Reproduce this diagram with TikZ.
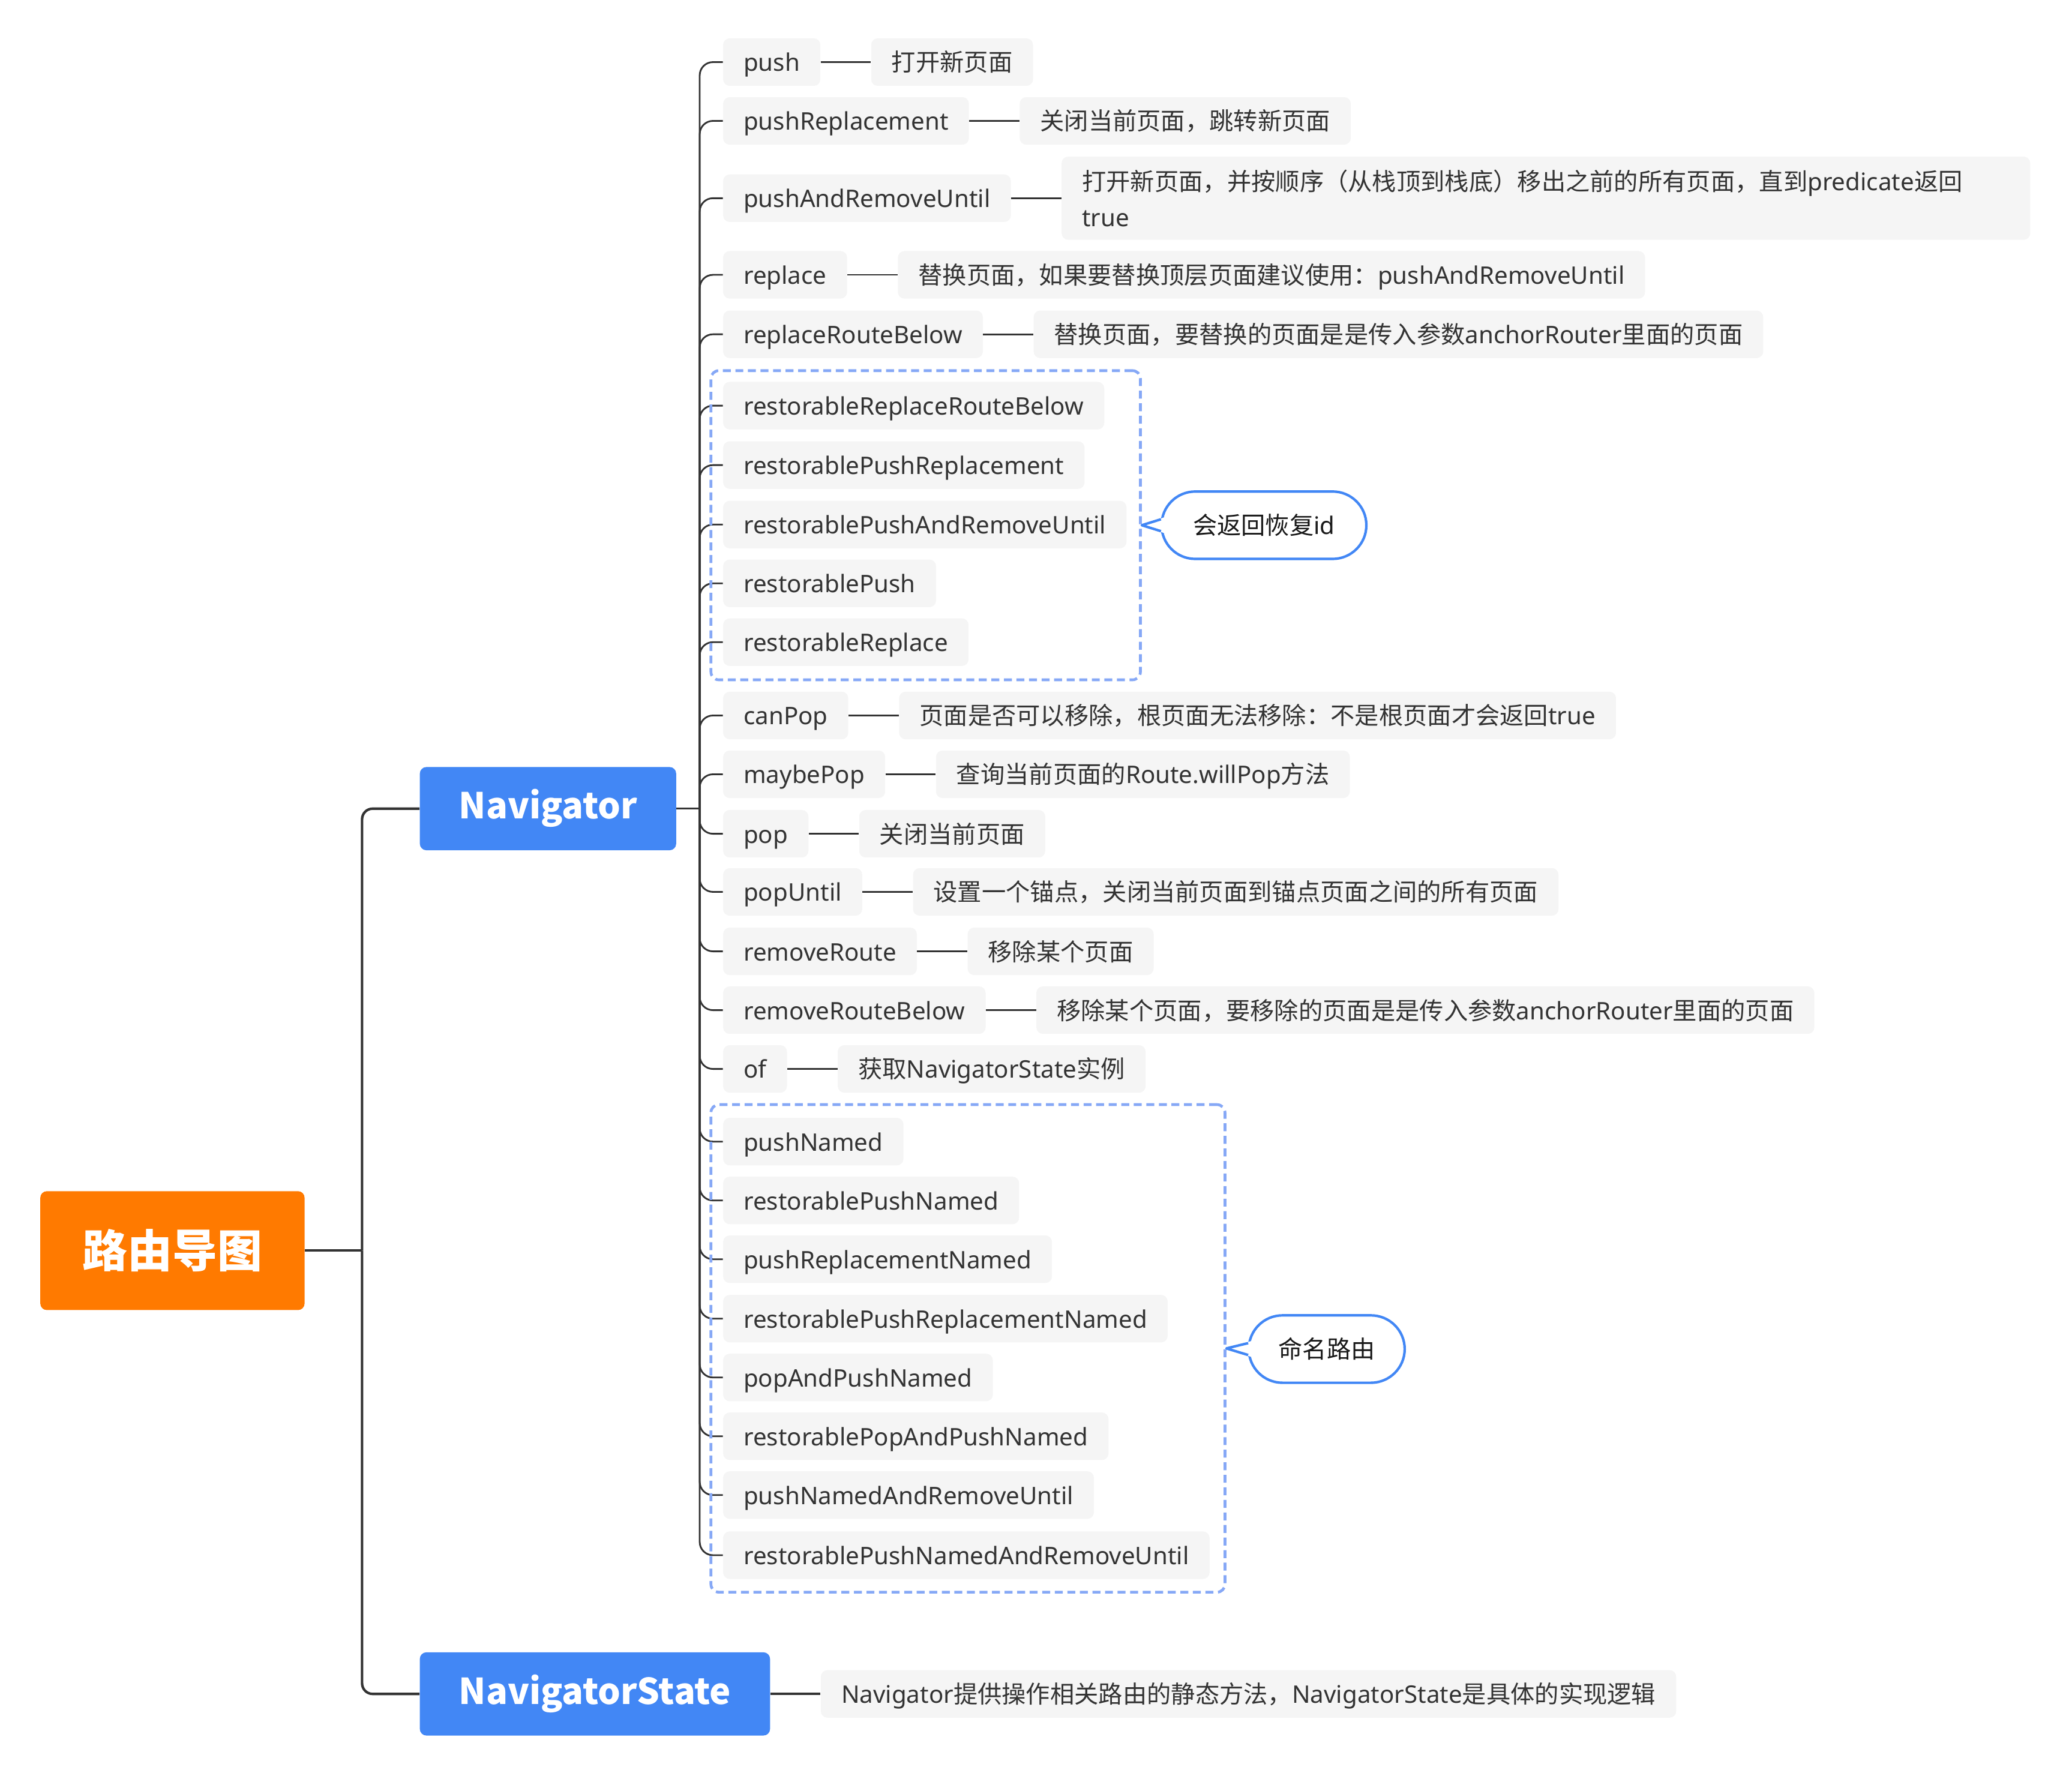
\documentclass[tikz,border=0pt]{standalone}
\usepackage{fontspec}
\setmainfont{Noto Sans}
\newfontfamily\cjk{Noto Sans CJK SC}
\usetikzlibrary{positioning,shapes.misc}
\newcommand\zh[1]{{\cjk #1}}
\definecolor{rootorange}{HTML}{FF7A00}
\definecolor{mainblue}{HTML}{4287F5}
\definecolor{groupblue}{HTML}{86A8F6}
\definecolor{leafgray}{HTML}{F5F5F5}
\definecolor{linedark}{HTML}{333333}
\definecolor{textdark}{HTML}{333333}
\begin{document}
\begin{tikzpicture}[x=1pt,y=-1pt,
  leaf/.style={fill=leafgray, rounded corners=5pt, anchor=west, inner xsep=15.5pt, inner ysep=0pt,
    minimum height=36pt, text height=15.5pt, text depth=1.5pt, text=textdark,
    font=\fontsize{18.3}{27}\selectfont},
  mainbox/.style={fill=mainblue, rounded corners=5pt, anchor=west, inner xsep=29.5pt, inner ysep=0pt,
    minimum height=63pt, text height=18pt, text depth=2.5pt, text=white, font=\fontsize{27}{30}\selectfont\cjk\bfseries},
  rootbox/.style={fill=rootorange, rounded corners=5pt, inner xsep=32pt, inner ysep=0pt,
    minimum height=90pt, text=white, font=\fontsize{34}{36}\selectfont\cjk\bfseries},
  link/.style={draw=linedark, line width=1.3pt},
  rootlink/.style={draw=linedark, line width=1.9pt, rounded corners=8pt},
  group/.style={draw=groupblue, line width=2.1pt, dash pattern=on 6pt off 3.5pt, rounded corners=6pt, inner sep=0pt},
  bubble/.style={rounded rectangle, draw=mainblue, line width=1.9pt, fill=white, inner sep=0pt,
    minimum height=51pt, text=black!90, font=\fontsize{18.3}{22}\selectfont},
  pointer/.style={draw=mainblue, line width=1.9pt, line join=round}
]
\useasboundingbox (0,0) rectangle (1568,1344);

% root and main branches
\node[rootbox] (root) at (130.5,946.5) {路由导图};
\node[mainbox] (nav) at (317.5,612) {Navigator};
\node[mainbox] (ns) at (317.5,1282) {NavigatorState};
\coordinate (rootj) at (274,946.5);
\draw[rootlink] (root.east) -- (rootj);
\draw[rootlink] (rootj) |- (nav.west);
\draw[rootlink] (rootj) |- (ns.west);

% NavigatorState description
\node[leaf, right=38pt of ns] (nsd) {Navigator\zh{提供操作相关路由的静态方法，}NavigatorState\zh{是具体的实现逻辑}};
\draw[link, line width=1.6pt] (ns) -- (nsd);

% Navigator children
\node[leaf] (c1) at (547,47) {push};
\node[leaf] (c2) at (547,91.5) {pushReplacement};
\node[leaf] (c3) at (547,150) {pushAndRemoveUntil};
\node[leaf] (c4) at (547,208) {replace};
\node[leaf] (c5) at (547,253) {replaceRouteBelow};
\node[leaf] (c6) at (547,307) {restorableReplaceRouteBelow};
\node[leaf] (c7) at (547,352) {restorablePushReplacement};
\node[leaf] (c8) at (547,397) {restorablePushAndRemoveUntil};
\node[leaf] (c9) at (547,441.5) {restorablePush};
\node[leaf] (c10) at (547,486) {restorableReplace};
\node[leaf] (c11) at (547,541.5) {canPop};
\node[leaf] (c12) at (547,586) {maybePop};
\node[leaf] (c13) at (547,631) {pop};
\node[leaf] (c14) at (547,675) {popUntil};
\node[leaf] (c15) at (547,720) {removeRoute};
\node[leaf] (c16) at (547,764.5) {removeRouteBelow};
\node[leaf] (c17) at (547,809) {of};
\node[leaf] (c18) at (547,864) {pushNamed};
\node[leaf] (c19) at (547,908.5) {restorablePushNamed};
\node[leaf] (c20) at (547,953) {pushReplacementNamed};
\node[leaf] (c21) at (547,998) {restorablePushReplacementNamed};
\node[leaf] (c22) at (547,1042.5) {popAndPushNamed};
\node[leaf] (c23) at (547,1087) {restorablePopAndPushNamed};
\node[leaf] (c24) at (547,1131.5) {pushNamedAndRemoveUntil};
\node[leaf] (c25) at (547,1177) {restorablePushNamedAndRemoveUntil};

\coordinate (navj) at (529.5,612);
\draw[link] (nav.east) -- (navj);
\foreach \c in {c1,c2,c3,c4,c5,c6,c7,c8,c9,c10,c11,c12,c13,c14,c15,c16,c17,c18,c19,c20,c21,c22,c23,c24,c25}
  \draw[link, rounded corners=10pt] (navj) |- (\c.west);

% descriptions
\node[leaf, right=38pt of c1] (d1) {\zh{打开新页面}};
\node[leaf, right=38pt of c2] (d2) {\zh{关闭当前页面，跳转新页面}};
\node[leaf, right=38pt of c3, minimum height=63pt, text width=702pt, align=left, text height=15.5pt, text depth=27pt]
  (d3) {\zh{打开新页面，并按顺序（从栈顶到栈底）移出之前的所有页面，直到}predicate\zh{返回}\\true};
\node[leaf, right=38pt of c4] (d4) {\zh{替换页面，如果要替换顶层页面建议使用：}pushAndRemoveUntil};
\node[leaf, right=38pt of c5] (d5) {\zh{替换页面，要替换的页面是是传入参数}anchorRouter\zh{里面的页面}};
\node[leaf, right=38pt of c11] (d11) {\zh{页面是否可以移除，根页面无法移除：不是根页面才会返回}true};
\node[leaf, right=38pt of c12] (d12) {\zh{查询当前页面的}Route.willPop\zh{方法}};
\node[leaf, right=38pt of c13] (d13) {\zh{关闭当前页面}};
\node[leaf, right=38pt of c14] (d14) {\zh{设置一个锚点，关闭当前页面到锚点页面之间的所有页面}};
\node[leaf, right=38pt of c15] (d15) {\zh{移除某个页面}};
\node[leaf, right=38pt of c16] (d16) {\zh{移除某个页面，要移除的页面是是传入参数}anchorRouter\zh{里面的页面}};
\node[leaf, right=38pt of c17] (d17) {\zh{获取}NavigatorState\zh{实例}};
\foreach \c/\d in {c1/d1,c2/d2,c3/d3,c4/d4,c5/d5,c11/d11,c12/d12,c13/d13,c14/d14,c15/d15,c16/d16,c17/d17}
  \draw[link] (\c.east) -- (\d.west);

% groups
\node[group, minimum width=325pt, minimum height=234pt] (g1) at (700.5,397.5) {};
\node[group, minimum width=389pt, minimum height=369pt] (g2) at (732.5,1020.5) {};

% callouts
\node[bubble, minimum width=155pt] (b1) at (956.5,397.5) {\zh{会返回恢复}id};
\fill[white] (g1.east) -- ([shift={(6,-7)}]b1.west) -- ([shift={(6,7)}]b1.west) -- cycle;
\draw[pointer] ([shift={(0.5,-4.5)}]b1.west) -- (g1.east) -- ([shift={(0.5,4.5)}]b1.west);

\node[bubble, minimum width=118pt] (b2) at (1004,1021) {\zh{命名路由}};
\fill[white] (g2.east) -- ([shift={(6,-7)}]b2.west) -- ([shift={(6,7)}]b2.west) -- cycle;
\draw[pointer] ([shift={(0.5,-4.5)}]b2.west) -- (g2.east) -- ([shift={(0.5,4.5)}]b2.west);
\end{tikzpicture}
\end{document}
